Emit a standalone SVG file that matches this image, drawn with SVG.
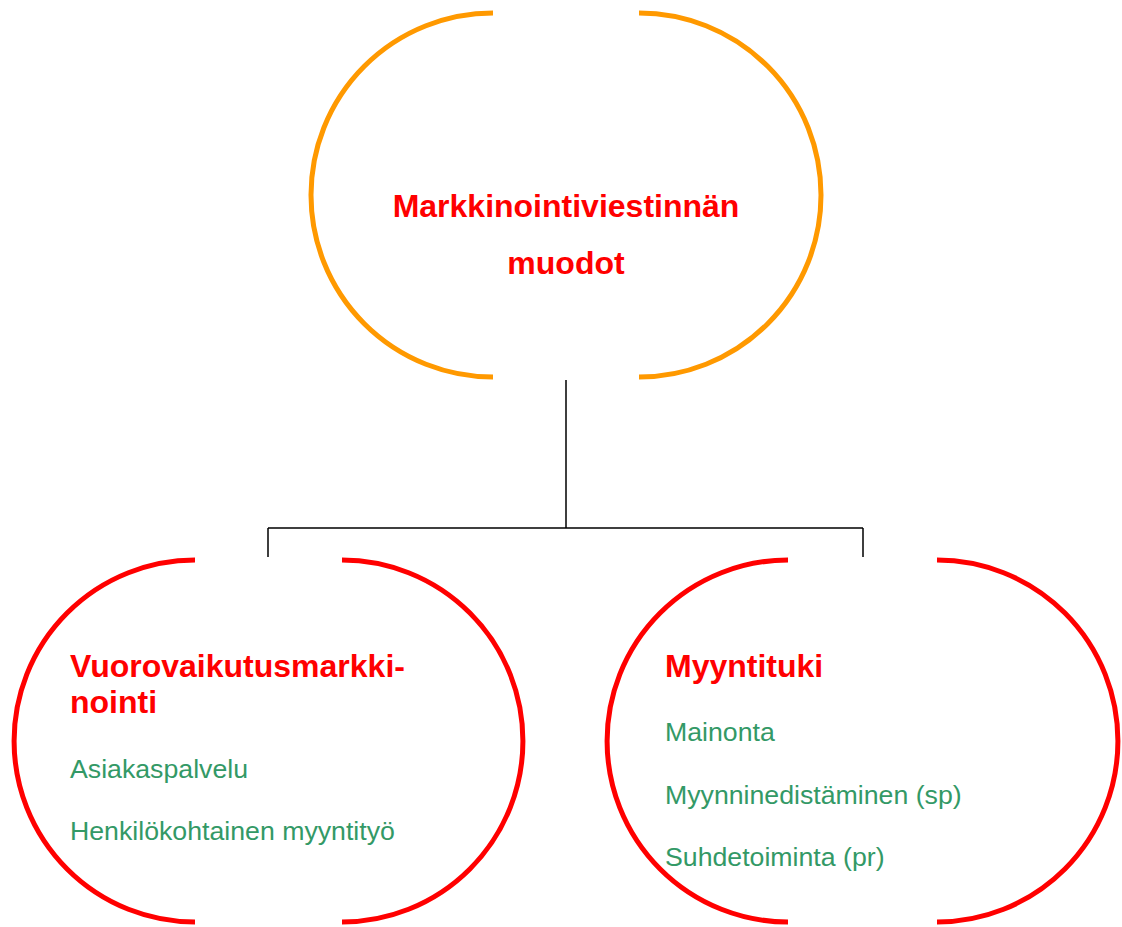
<svg xmlns="http://www.w3.org/2000/svg" width="1122" height="927" viewBox="0 0 1122 927">
<style>
.arcO{fill:none;stroke:#FF9900;stroke-width:5}
.arcR{fill:none;stroke:#FF0000;stroke-width:5}
.conn{fill:none;stroke:#000;stroke-width:1.5}
.title{font-family:"Liberation Sans",Arial,sans-serif;font-weight:bold;font-size:32px;fill:#FF0000}
.item{font-family:"Liberation Sans",Arial,sans-serif;font-size:26.7px;fill:#339966}
</style>
<rect width="1122" height="927" fill="#fff"/>
<g id="connectors">
<path class="conn" d="M566,380 V528 M268,528 H863 M268,528 V557 M863,528 V557"/>
</g>
<g id="node-root">
<path class="arcO" d="M493,13 A182,182 0 0 0 493,377"/>
<path class="arcO" d="M639,13 A182,182 0 0 1 639,377"/>
<text class="title" text-anchor="middle" x="566" y="217">Markkinointiviestinnän</text>
<text class="title" text-anchor="middle" x="566" y="274">muodot</text>
</g>
<g id="node-left">
<path class="arcR" d="M195,560 A181,181 0 0 0 195,922"/>
<path class="arcR" d="M342,560 A181,181 0 0 1 342,922"/>
<text class="title" x="70" y="677">Vuorovaikutusmarkki-</text>
<text class="title" x="70" y="713">nointi</text>
<text class="item" x="70" y="778">Asiakaspalvelu</text>
<text class="item" x="70" y="840">Henkilökohtainen myyntityö</text>
</g>
<g id="node-right">
<path class="arcR" d="M788,560 A181,181 0 0 0 788,922"/>
<path class="arcR" d="M937,560 A181,181 0 0 1 937,922"/>
<text class="title" x="665" y="677">Myyntituki</text>
<text class="item" x="665" y="741">Mainonta</text>
<text class="item" x="665" y="804">Myynninedistäminen (sp)</text>
<text class="item" x="665" y="866">Suhdetoiminta (pr)</text>
</g>
</svg>
